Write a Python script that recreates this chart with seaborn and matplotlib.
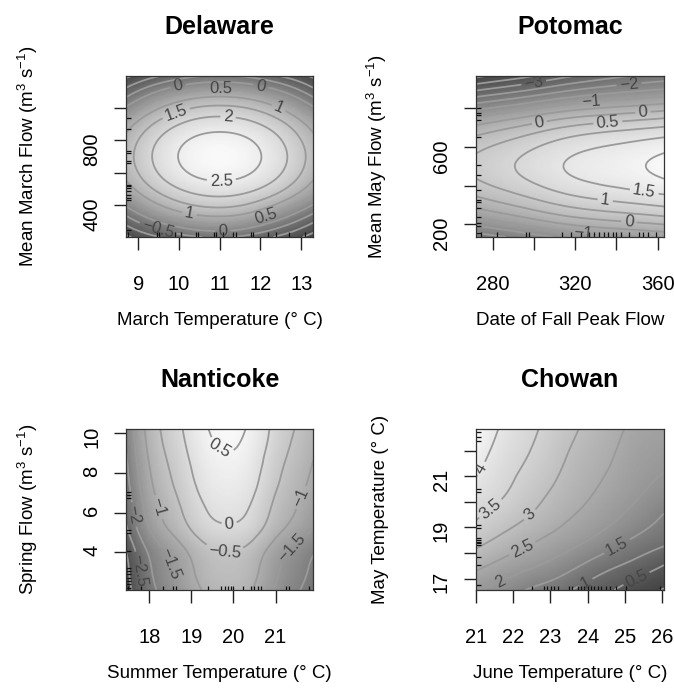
"""Four fitted-surface panels (grey image + contours + data rugs), saved to out.png."""

import matplotlib

matplotlib.use("Agg")  # headless backend
import matplotlib.pyplot as plt  # noqa: E402
import matplotlib.tri as mtri  # noqa: E402
import numpy as np  # noqa: E402
import seaborn as sns  # noqa: E402
from matplotlib.colors import LinearSegmentedColormap  # noqa: E402

# ---- values ----------------------------------------------------------------
# each surface: grid columns (x), grid rows (y), fitted value per row (bottom -> top)

delaware_x = [8.7, 9.3, 9.85, 10.4, 11.0, 11.6, 12.15, 12.7, 13.3]
delaware_y = [200, 325, 450, 575, 700, 825, 950, 1075, 1200]
delaware_z = [
    [-1.60, -1.15, -0.80, -0.55, -0.45, -0.60, -0.90, -1.25, -1.70],
    [-0.56, 0.13, 0.59, 0.87, 0.97, 0.82, 0.45, -0.05, -0.70],
    [0.46, 1.15, 1.61, 1.89, 1.99, 1.87, 1.56, 1.08, 0.40],
    [1.07, 1.76, 2.22, 2.50, 2.60, 2.50, 2.22, 1.76, 1.07],
    [1.27, 1.96, 2.42, 2.70, 2.80, 2.70, 2.42, 1.96, 1.27],
    [1.07, 1.76, 2.22, 2.50, 2.60, 2.50, 2.22, 1.76, 1.07],
    [0.46, 1.15, 1.61, 1.89, 1.99, 1.89, 1.61, 1.15, 0.46],
    [-0.56, 0.13, 0.59, 0.87, 0.97, 0.87, 0.59, 0.13, -0.56],
    [-1.60, -1.15, -0.80, -0.55, -0.45, -0.55, -0.80, -1.15, -1.60],
]
delaware_rug_x = [8.75, 9.45, 9.52, 9.9, 10.05, 10.42, 10.46, 10.87, 10.91, 11.08,
                  11.32, 11.41, 11.78, 11.82, 12.18, 12.37, 12.7, 13.1]
delaware_rug_y = [245, 431, 442, 462, 483, 504, 514, 524, 660, 670, 722, 732, 870, 940]

potomac_x = [272, 285, 298, 311, 324, 337, 350, 363]
potomac_y = [135, 240, 345, 450, 555, 660, 765, 870, 965]
potomac_z = [
    [-2.30, -2.03, -1.75, -1.47, -1.26, -1.12, -1.00, -0.87],
    [-0.95, -0.68, -0.40, -0.12, 0.09, 0.23, 0.35, 0.48],
    [0.00, 0.27, 0.55, 0.83, 1.04, 1.18, 1.30, 1.43],
    [0.54, 0.81, 1.09, 1.37, 1.58, 1.72, 1.86, 2.06],
    [0.53, 0.80, 1.08, 1.36, 1.57, 1.71, 1.86, 2.05],
    [-0.02, 0.25, 0.53, 0.81, 1.02, 1.16, 1.28, 1.41],
    [-1.15, -0.88, -0.60, -0.32, -0.11, 0.03, 0.15, 0.28],
    [-2.70, -2.43, -2.15, -1.85, -1.60, -1.42, -1.28, -1.15],
    [-4.10, -3.83, -3.55, -3.20, -2.90, -2.65, -2.45, -2.30],
]
potomac_rug_x = [274.2, 282.3, 296, 297.6, 313.8, 317.9, 322.7, 326.8, 329.2, 331.6,
                 334, 335.7, 338.1, 339.7, 342.1, 346.2, 351, 352.7, 355.1, 359.1]
potomac_rug_y = [155, 191, 205, 240, 282, 317, 325, 377, 454, 506, 652, 738, 763, 772, 798]

nanticoke_x = [17.45, 17.95, 18.45, 18.95, 19.45, 19.95, 20.45, 20.95, 21.45, 21.9]
nanticoke_y = [2.1, 3.1, 4.1, 5.1, 6.1, 7.1, 8.1, 9.1, 10.2]
nanticoke_z = [
    [-3.30, -2.30, -1.72, -1.25, -0.88, -0.80, -1.00, -1.50, -1.90, -2.25],
    [-3.16, -2.16, -1.58, -1.11, -0.74, -0.66, -0.86, -1.36, -1.76, -2.11],
    [-2.98, -1.98, -1.40, -0.93, -0.56, -0.48, -0.68, -1.18, -1.58, -1.93],
    [-2.60, -1.60, -1.02, -0.55, -0.18, -0.10, -0.30, -0.80, -1.20, -1.55],
    [-2.38, -1.38, -0.80, -0.33, 0.04, 0.12, -0.08, -0.58, -0.98, -1.33],
    [-2.23, -1.23, -0.65, -0.18, 0.19, 0.27, 0.07, -0.43, -0.83, -1.18],
    [-2.11, -1.11, -0.53, -0.06, 0.31, 0.39, 0.19, -0.31, -0.71, -1.06],
    [-2.00, -1.00, -0.42, 0.05, 0.42, 0.50, 0.30, -0.20, -0.60, -0.95],
    [-1.90, -0.90, -0.32, 0.15, 0.52, 0.60, 0.40, -0.10, -0.50, -0.85],
]
nanticoke_rug_x = [17.5, 17.81, 18.32, 18.56, 18.64, 19.39, 19.71, 19.79, 19.86, 19.94,
                   20.0, 20.22, 20.42, 20.5, 20.58, 20.65, 21.25, 21.33, 21.8]
nanticoke_rug_y = [2.22, 2.39, 2.55, 2.72, 2.89, 3.05, 3.22, 4.05, 4.97, 5.14, 6.72, 6.89, 7.05]

chowan_x = [21.0, 21.72, 22.44, 23.16, 23.88, 24.6, 25.32, 26.05]
chowan_y = [16.55, 17.45, 18.35, 19.25, 20.15, 21.05, 21.95, 22.85]
chowan_z = [
    [2.00, 1.80, 1.45, 1.20, 0.85, 0.55, 0.22, -0.03],
    [2.60, 2.30, 2.05, 1.78, 1.42, 1.07, 0.78, 0.45],
    [3.09, 2.80, 2.52, 2.26, 1.98, 1.65, 1.32, 1.05],
    [3.49, 3.20, 2.92, 2.62, 2.34, 2.06, 1.75, 1.40],
    [3.76, 3.50, 3.18, 2.86, 2.57, 2.29, 2.02, 1.73],
    [4.02, 3.66, 3.36, 3.03, 2.71, 2.45, 2.18, 1.98],
    [4.24, 3.80, 3.50, 3.16, 2.83, 2.56, 2.28, 2.14],
    [4.42, 3.93, 3.60, 3.28, 2.95, 2.66, 2.38, 2.28],
]
chowan_rug_x = [22.51, 22.83, 22.92, 23.01, 23.1, 23.19, 23.5, 23.59, 23.73, 23.82, 23.91,
                24.0, 24.09, 24.18, 24.27, 24.36, 24.5, 24.59, 24.77, 25.04, 25.94]
chowan_rug_y = [16.75, 17.53, 17.86, 18.31, 18.38, 18.44, 18.51, 18.57, 18.96, 19.09,
                20.39, 20.52, 22.4, 22.53, 22.73]

titles = ["Delaware", "Potomac", "Nanticoke", "Chowan"]
xlabels = ["March Temperature (\u00b0 C)", "Date of Fall Peak Flow",
           "Summer Temperature (\u00b0 C)", "June Temperature (\u00b0 C)"]
ylabels = ["Mean March Flow (m$^{3}$ s$^{-1}$)", "Mean May Flow (m$^{3}$ s$^{-1}$)",
           "Spring Flow (m$^{3}$ s$^{-1}$)", "May Temperature (\u00b0 C)"]
xticks = [[9, 10, 11, 12, 13], [280, 300, 320, 340, 360], [18, 19, 20, 21],
          [21, 22, 23, 24, 25, 26]]
xticklabels = [["9", "10", "11", "12", "13"], ["280", "", "320", "", "360"],
               ["18", "19", "20", "21"], ["21", "22", "23", "24", "25", "26"]]
yticks = [[400, 600, 800, 1000], [200, 400, 600, 800], [4, 6, 8, 10],
          [17, 18, 19, 20, 21, 22]]
yticklabels = [["400", "", "800", ""], ["200", "", "600", ""], ["4", "6", "8", "10"],
               ["17", "", "19", "", "21", ""]]

# where the contour labels sit (data coordinates), as in the reference
label_spots = [
    [(9.97, 1146), (11.04, 1115), (12.02, 1146), (9.97, 939), (11.2, 929),
     (12.43, 991), (11.04, 545), (10.26, 358), (12.1, 348), (9.48, 245), (11.08, 224)],
    [(300, 927), (346, 927), (327.6, 832), (352.7, 789), (302.5, 738), (335.7, 738),
     (334.9, 360), (353.4, 368), (346, 213), (324, 154)],
    [(19.71, 9.3), (19.9, 5.47), (19.79, 4.05), (18.28, 6.3), (18.44, 3.39),
     (17.61, 5.89), (17.65, 3.05), (21.56, 6.8), (21.4, 4.22)],
    [(21.2, 21.26), (21.47, 19.59), (22.46, 19.48), (22.24, 18.18), (21.65, 16.88),
     (24.77, 18.31), (23.91, 16.95), (25.31, 17.0)],
]

surfaces = [
    (delaware_x, delaware_y, delaware_z, delaware_rug_x, delaware_rug_y),
    (potomac_x, potomac_y, potomac_z, potomac_rug_x, potomac_rug_y),
    (nanticoke_x, nanticoke_y, nanticoke_z, nanticoke_rug_x, nanticoke_rug_y),
    (chowan_x, chowan_y, chowan_z, chowan_rug_x, chowan_rug_y),
]

# axes boxes in figure fractions (left, bottom, width, height)
AXES_RECTS = [
    (0.187, 0.658, 0.278, 0.2323),
    (0.7062, 0.658, 0.279, 0.2323),
    (0.187, 0.1486, 0.278, 0.2323),
    (0.7062, 0.1486, 0.279, 0.2323),
]
LEVELS = np.arange(-4.5, 5.0, 0.5)
GREYS = LinearSegmentedColormap.from_list("greys", ["#434343", "#f9f9f9"])


def smooth_surface(xs, ys, zs):
    """Grid -> triangulation refined by matplotlib's cubic interpolator."""
    xs, ys, zs = np.asarray(xs, float), np.asarray(ys, float), np.asarray(zs, float)
    ny, nx = zs.shape
    gx, gy = np.meshgrid((xs - xs[0]) / (xs[-1] - xs[0]), (ys - ys[0]) / (ys[-1] - ys[0]))
    idx = np.arange(nx * ny).reshape(ny, nx)
    a, b = idx[:-1, :-1].ravel(), idx[:-1, 1:].ravel()
    c, d = idx[1:, 1:].ravel(), idx[1:, :-1].ravel()
    triangles = np.concatenate([np.column_stack([a, b, c]), np.column_stack([a, c, d])])
    tri = mtri.Triangulation(gx.ravel(), gy.ravel(), triangles)
    interp = mtri.CubicTriInterpolator(tri, zs.ravel(), kind="min_E")
    fine, zf = mtri.UniformTriRefiner(tri).refine_field(zs.ravel(), interp, subdiv=4)
    fine = mtri.Triangulation(
        xs[0] + fine.x * (xs[-1] - xs[0]), ys[0] + fine.y * (ys[-1] - ys[0]), fine.triangles
    )
    return fine, zf


def level_text(v):
    return f"{v:g}".replace("-", "\u2212")


sns.set_style("ticks")
plt.rcParams["font.family"] = ["Liberation Sans", "DejaVu Sans"]
plt.rcParams["mathtext.fontset"] = "custom"
plt.rcParams["mathtext.rm"] = "Liberation Sans"
plt.rcParams["mathtext.it"] = "Liberation Sans:italic"
for key in ("text.color", "axes.labelcolor", "xtick.labelcolor", "ytick.labelcolor"):
    plt.rcParams[key] = "black"
plt.rcParams["contour.negative_linestyle"] = "solid"

fig = plt.figure(figsize=(6.74, 6.93), dpi=100)

for i, (xs, ys, zs, rug_x, rug_y) in enumerate(surfaces):
    ax = fig.add_axes(AXES_RECTS[i])
    tri, zf = smooth_surface(xs, ys, zs)
    ax.tripcolor(tri, zf, shading="gouraud", cmap=GREYS, vmin=zf.min(), vmax=zf.max())
    cs = ax.tricontour(tri, zf, levels=LEVELS, colors="#9a9a9a", linewidths=1.3,
                       linestyles="solid")
    ax.clabel(cs, manual=label_spots[i], inline=True, inline_spacing=3,
              fmt=level_text, fontsize=12, colors="#454545")

    sns.rugplot(x=rug_x, ax=ax, height=0.028, color="#111111", linewidth=0.9,
                expand_margins=False)
    sns.rugplot(y=rug_y, ax=ax, height=0.028, color="#111111", linewidth=0.9,
                expand_margins=False)

    ax.set_xlim(xs[0], xs[-1])
    ax.set_ylim(ys[0], ys[-1])
    ax.set_xticks(xticks[i], xticklabels[i])
    ax.set_yticks(yticks[i], yticklabels[i])
    ax.tick_params(direction="out", length=9, width=1.0, color="#222222", labelsize=14.5)
    ax.tick_params(axis="x", pad=18)
    ax.tick_params(axis="y", pad=9, labelrotation=90)
    for spine in ax.spines.values():
        spine.set_color("#333333")
        spine.set_linewidth(0.9)

    ax.set_title(titles[i], fontsize=18, fontweight="bold", pad=30, color="black")
    ax.set_xlabel(xlabels[i], fontsize=13.5)
    ax.set_ylabel(ylabels[i], fontsize=13.5)
    ax.xaxis.set_label_coords(0.5, -0.466)
    ax.yaxis.set_label_coords(-0.46, 0.5)

fig.savefig("out.png", dpi=100)
plt.close(fig)
